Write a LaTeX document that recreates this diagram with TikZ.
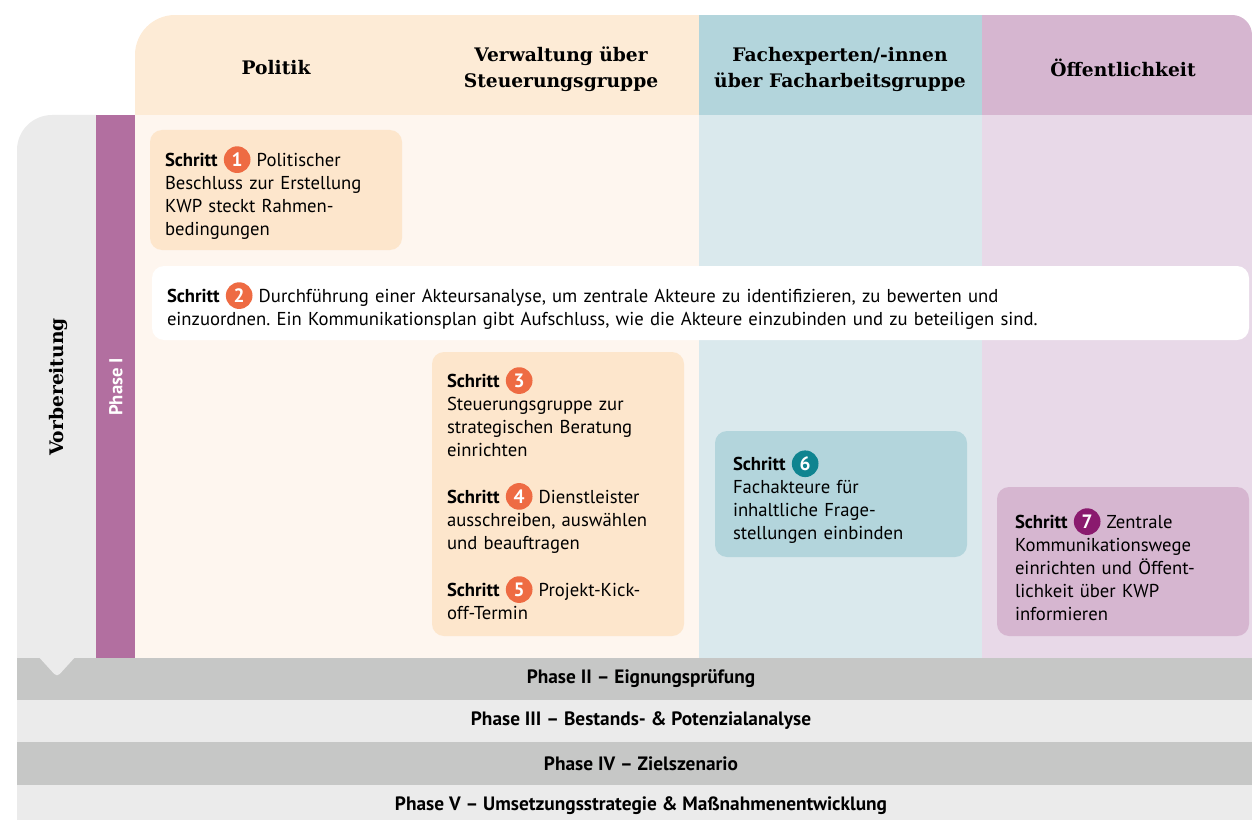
\documentclass[tikz,border=0pt]{standalone}
\usepackage{fontspec}
\setmainfont{PT Sans}
\newfontfamily\slabfont{DejaVu Serif}
\usetikzlibrary{positioning}

\definecolor{polhead}{HTML}{FDEBD6}
\definecolor{polbody}{HTML}{FEF6EF}
\definecolor{polbox}{HTML}{FDE6CC}
\definecolor{fachhead}{HTML}{B3D5DC}
\definecolor{fachbody}{HTML}{DAE9ED}
\definecolor{oeffhead}{HTML}{D6B6D0}
\definecolor{oeffbody}{HTML}{E8D9E8}
\definecolor{phaseone}{HTML}{B26FA0}
\definecolor{greylight}{HTML}{EBEBEB}
\definecolor{greydark}{HTML}{C6C7C6}
\definecolor{numorange}{HTML}{EE6B43}
\definecolor{numteal}{HTML}{0F8490}
\definecolor{numpurple}{HTML}{8A1A6E}

\tikzset{
  numdot/.style={circle, fill=#1, text=white, font=\bfseries\fontsize{14.5}{15}\selectfont,
    inner sep=0pt, minimum width=20pt, minimum height=20pt, text width=, align=center},
}
\newcommand{\stepno}[2]{\smash{\tikz[baseline=(dot.base)]\node[numdot=#1] (dot) {#2};}}
\newcommand{\schritt}[2]{\textbf{Schritt}~\stepno{#1}{#2}}
\newcommand{\boxtop}[1][19.5pt]{\rule{0pt}{#1}}

\begin{document}
\frenchspacing
\begin{tikzpicture}[x=0.75pt, y=-0.75pt,
    stepbox/.style={rounded corners=9pt, inner xsep=11.25pt, inner ysep=0pt,
      minimum width=189pt, text width=166.5pt, align=left,
      font=\fontsize{14}{17.25}\selectfont},
    head/.style={font=\slabfont\bfseries\fontsize{14}{19.5}\selectfont, align=center},
    band/.style={minimum width=936pt, minimum height=31.5pt, inner sep=0pt,
      font=\bfseries\fontsize{14.5}{16}\selectfont}]
  \useasboundingbox (0,0) rectangle (1252,820);
  % column heads and bodies
  \begin{scope}
    \clip (135,115) -- (135,55) arc[start angle=180, end angle=270, radius=40]
      -- (1232,15) arc[start angle=270, end angle=360, radius=20]
      -- (1252,658) -- (135,658) -- cycle;
    \fill[polhead] (135,15) rectangle (699,115);
    \fill[fachhead] (699,15) rectangle (982,115);
    \fill[oeffhead] (982,15) rectangle (1252,115);
    \fill[polbody] (135,115) rectangle (699,658);
    \fill[fachbody] (699,115) rectangle (982,658);
    \fill[oeffbody] (982,115) rectangle (1252,658);
  \end{scope}
  \node[head] (hpol) at (276,68) {Politik};
  \node[head] (hverw) at (561,69) {Verwaltung über\\Steuerungsgruppe};
  \node[head] (hfach) at (840,69) {Fachexperten/-innen\\über Facharbeitsgruppe};
  \node[head] (hoeff) at (1123,68) {Öffentlichkeit};
  % left side: preparation and phase I
  \fill[greylight] (17,658) -- (17,150) arc[start angle=180, end angle=270, radius=35]
    -- (96,115) -- (96,658) -- cycle;
  \fill[phaseone] (96,115) rectangle (135,658);
  \node[head, rotate=90] (vorb) at (58,387) {Vorbereitung};
  \node[rotate=90, text=white, font=\bfseries\fontsize{14}{15}\selectfont] (phI) at (116,387) {Phase I};
  % phases below
  \node[band, fill=greydark] (phII) at (641,679) {Phase II – Eignungsprüfung};
  \node[band, fill=greylight] (phIII) at (641,721) {Phase III – Bestands- \& Potenzialanalyse};
  \node[band, fill=greydark, minimum height=32.25pt] (phIV) at (641,763.5) {Phase IV – Zielszenario};
  \node[band, fill=greylight] (phV) at (641,806) {Phase V – Umsetzungsstrategie \& Maßnahmenentwicklung};
  \fill[greylight, rounded corners=3pt] (37,655) -- (57,677) -- (77,655) -- cycle;
  % steps
  \node[stepbox, fill=polbox, minimum height=90pt] (s1) at (276,190)
    {\boxtop\schritt{numorange}{1} Politischer\\Beschluss zur Erstellung\\KWP steckt Rahmen-\\bedingungen};
  \node[stepbox, fill=white, minimum width=822.75pt, text width=800.25pt, minimum height=55.5pt] (s2) at (700.5,303)
    {\boxtop\schritt{numorange}{2} Durchführung einer Akteursanalyse, um zentrale Akteure zu identifizieren, zu bewerten und\\einzuordnen. Ein Kommunikationsplan gibt Aufschluss, wie die Akteure einzubinden und zu beteiligen sind.};
  \node[stepbox, fill=polbox, minimum height=213pt] (s3) at (558,494)
    {\boxtop[14pt]\schritt{numorange}{3}\\Steuerungsgruppe zur\\strategischen Beratung\\einrichten\\[18pt]
     \schritt{numorange}{4} Dienstleister\\ausschreiben, auswählen\\und beauftragen\\[18pt]
     \schritt{numorange}{5} Projekt-Kick-\\off-Termin};
  \node[stepbox, fill=fachhead, inner xsep=13.5pt, text width=162pt, minimum height=94.5pt] (s6) at (841,494)
    {\boxtop\schritt{numteal}{6}\\Fachakteure für\\inhaltliche Frage-\\stellungen einbinden};
  \node[stepbox, fill=oeffhead, inner xsep=13.5pt, text width=162pt, minimum height=111.75pt] (s7) at (1123,561.5)
    {\boxtop\schritt{numpurple}{7} Zentrale\\Kommunikationswege\\einrichten und Öffent-\\lichkeit über KWP\\informieren};
\end{tikzpicture}
\end{document}
